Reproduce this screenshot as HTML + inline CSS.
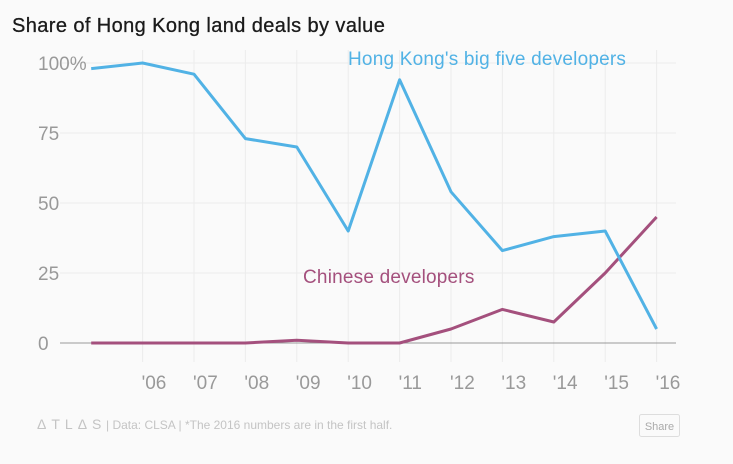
<!DOCTYPE html>
<html><head><meta charset="utf-8"><style>
html,body{margin:0;padding:0;background:#fafafa;width:733px;height:464px;overflow:hidden;font-family:"Liberation Sans",sans-serif;}
</style></head><body>
<svg id="chart" width="733" height="464" xmlns="http://www.w3.org/2000/svg">
<text x="12" y="32" font-size="20" fill="#1a1a1a" stroke="#1a1a1a" stroke-width="0.3" letter-spacing="0.4">Share of Hong Kong land deals by value</text>
<g id="grid"></g>
<g id="axes"></g>
<g id="series"></g>
<text x="348" y="65" font-size="19" fill="#51b2e5" letter-spacing="0.2">Hong Kong's big five developers</text>
<text x="303" y="283" font-size="19" fill="#a4507d" letter-spacing="0.2">Chinese developers</text>
<text x="37" y="429" font-size="14" fill="#c4c4c4" letter-spacing="5">ΔTLΔS</text>
<text x="106" y="429" font-size="12" fill="#c4c4c4">| Data: CLSA | *The 2016 numbers are in the first half.</text>
<g>
<rect x="639.5" y="414.5" width="40" height="22" rx="2" fill="#fafafa" stroke="#ddd"/>
<text x="659.5" y="430" font-size="11" fill="#aaa" text-anchor="middle">Share</text>
</g>
</svg>
<script>
const years = [2005,2006,2007,2008,2009,2010,2011,2012,2013,2014,2015,2016];
const hkBigFive = [98,100,96,73,70,40,94,54,33,38,40,5];
const chineseDev = [0,0,0,0,1,0,0,5,12,7.5,25,45];
const yTicks = [0,25,50,75,100];
const yTickLabels = ["0","25","50","75","100%"];
const xTicks = [2006,2007,2008,2009,2010,2011,2012,2013,2014,2015,2016];
const xTickLabels = ["'06","'07","'08","'09","'10","'11","'12","'13","'14","'15","'16"];
const NS="http://www.w3.org/2000/svg";
const x = v => 91.2 + (v-2005)*51.4;
const y = v => 343 - v*2.8;
function mk(tag, attrs, parent){const e=document.createElementNS(NS,tag);for(const k in attrs)e.setAttribute(k,attrs[k]);parent.appendChild(e);return e;}
const grid=document.getElementById('grid'), axes=document.getElementById('axes'), series=document.getElementById('series');
yTicks.forEach((t,i)=>{
  if(t!==0){const l=mk('line',{x1:60,x2:676,y1:y(t),y2:y(t),stroke:'#ececec','stroke-width':1},grid);
  
  }
  const tx=mk('text',{x:38,y:y(t)+7,'font-size':19,fill:'#999'},axes);
  tx.textContent=yTickLabels[i];
  
  
});
xTicks.forEach((t,i)=>{
  const l=mk('line',{x1:x(t),x2:x(t),y1:50,y2:362,stroke:'#ececec','stroke-width':1},grid);
  
  
  const tx=mk('text',{x:x(t)-1,y:389,'font-size':19,fill:'#999'},axes);
  tx.textContent=xTickLabels[i];
  
  
});
const zl=mk('line',{x1:60,x2:676,y1:y(0),y2:y(0),stroke:'#999','stroke-width':1},axes);


function line(vals,color,name){
  const p=mk('polyline',{points:vals.map((v,i)=>x(years[i])+','+y(v)).join(' '),fill:'none',stroke:color,'stroke-width':3,'stroke-linejoin':'round'},series);
  
  
}
line(chineseDev,'#a4507d','line-chinese-developers');
line(hkBigFive,'#51b2e5','line-hk-big-five');
</script>
</body></html>
